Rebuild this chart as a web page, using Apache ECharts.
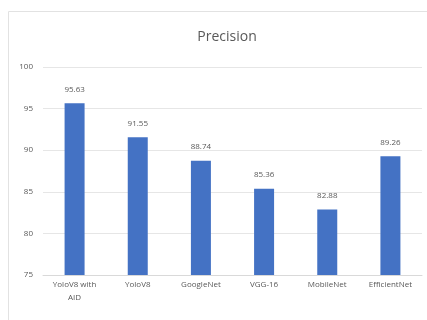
<!DOCTYPE html>
<html>
<head>
<meta charset="utf-8">
<script src="https://cdn.jsdelivr.net/npm/echarts@6/dist/echarts.min.js"></script>
<style>
  html, body { margin: 0; padding: 0; background: #ffffff; }
  #chart { width: 427px; height: 320px; }
</style>
</head>
<body>
<div id="chart"></div>
<script>
// Precision of each model
const categories = ['YoloV8 with\nAID', 'YoloV8', 'GoogleNet', 'VGG-16', 'MobileNet', 'EfficientNet'];
const precision = [95.63, 91.55, 88.74, 85.36, 82.88, 89.26];
const yTicks = { min: 75, max: 100, interval: 5 };

const chart = echarts.init(document.getElementById('chart'), null, { renderer: 'canvas' });
const textColor = '#595959';
const font = 'Open Sans, Liberation Sans, sans-serif';

chart.setOption({
  animation: false,
  backgroundColor: '#ffffff',
  graphic: [{
    type: 'rect',
    shape: { x: 8.5, y: 11.5, width: 440, height: 330 },
    style: { fill: 'none', stroke: '#e2e2e2', lineWidth: 1 },
    silent: true
  }],
  title: {
    text: 'Precision',
    left: 222,
    top: 25,
    textAlign: 'center',
    textStyle: { color: textColor, fontSize: 14, fontWeight: 'normal', fontFamily: font }
  },
  grid: { left: 43, right: 5, top: 67, bottom: 45 },
  xAxis: {
    type: 'category',
    data: categories,
    axisLine: { show: true, lineStyle: { color: '#d9d9d9' } },
    axisTick: { show: false },
    axisLabel: {
      color: textColor, fontSize: 8, fontFamily: font, margin: 3,
      interval: 0, lineHeight: 13
    }
  },
  yAxis: {
    type: 'value',
    min: yTicks.min,
    max: yTicks.max,
    interval: yTicks.interval,
    axisLine: { show: false },
    axisTick: { show: false },
    splitLine: { lineStyle: { color: '#e6e6e6' } },
    axisLabel: { color: textColor, fontSize: 8, fontFamily: font, margin: 10 }
  },
  series: [{
    type: 'bar',
    data: precision,
    barWidth: 20,
    itemStyle: { color: '#4472c4' },
    label: {
      show: true,
      position: 'top',
      distance: 10,
      color: textColor,
      fontSize: 8,
      fontFamily: font,
      formatter: p => p.value.toFixed(2)
    }
  }]
});
</script>
</body>
</html>
